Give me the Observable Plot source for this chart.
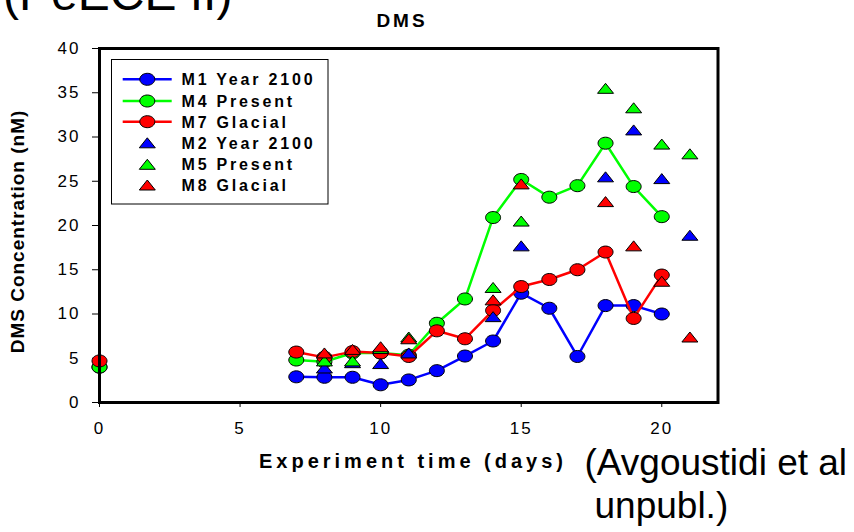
<!DOCTYPE html>
<html>
<head>
<meta charset="utf-8">
<script src="https://cdn.jsdelivr.net/npm/d3@7"></script>
<script src="https://cdn.jsdelivr.net/npm/@observablehq/plot@0.6"></script>
<style>
  body { margin: 0; background: #fff; }
  #wrap { position: relative; width: 854px; height: 532px; overflow: hidden; background: #fff; }
  #chart { position: absolute; left: 0; top: 0; }
  #overlay { position: absolute; left: 0; top: 0; pointer-events: none; }
</style>
</head>
<body>
<div id="wrap"><div id="chart"></div></div>
<script>
// ---------- data (index = experiment day) ----------
const days = [0, 1, 2, 3, 4, 5, 6, 7, 8, 9, 10, 11, 12, 13, 14, 15, 16, 17, 18, 19, 20, 21];
const M1 = [4.0, null, null, null, null, null, null, 2.9, 2.85, 2.85, 2.0, 2.55, 3.6, 5.25, 6.95, 12.35, 10.65, 5.2, 10.95, 10.95, 10.0, null];
const M4 = [4.0, null, null, null, null, null, null, 4.8, 4.6, 5.6, 5.6, 5.35, 8.95, 11.7, 20.9, 25.2, 23.2, 24.5, 29.3, 24.4, 21.0, null];
const M7 = [4.7, null, null, null, null, null, null, 5.7, 5.1, 5.75, 5.6, 5.2, 8.1, 7.2, 10.4, 13.1, 13.9, 15.0, 17.0, 9.5, 14.4, null];
const M2 = [null, null, null, null, null, null, null, null, 3.9, 4.5, 4.4, 5.6, null, null, 9.7, 17.7, null, null, 25.5, 30.8, 25.3, 18.9];
const M5 = [null, null, null, null, null, null, null, null, 4.7, 4.7, 6.1, 7.4, null, null, 13.0, 20.5, null, null, 35.5, 33.3, 29.2, 28.1];
const M8 = [null, null, null, null, null, null, null, null, 5.6, 6.0, 6.3, 7.2, null, null, 11.6, 24.7, null, null, 22.7, 17.7, 13.7, 7.4];

const xTicks = [0, 5, 10, 15, 20];
const yTicks = [0, 5, 10, 15, 20, 25, 30, 35, 40];

const lineKeys = ["M1", "M4", "M7"];
const triKeys = ["M2", "M5", "M8"];
const legendLabels = ["M1 Year 2100", "M4 Present", "M7 Glacial", "M2 Year 2100", "M5 Present", "M8 Glacial"];
const colors = { M1: "#0000ff", M4: "#00ff00", M7: "#ff0000", M2: "#0000ff", M5: "#00ff00", M8: "#ff0000" };

const series = { M1, M4, M7, M2, M5, M8 };
const rows = days.map((d, i) => {
  const r = { day: d };
  for (const k in series) r[k] = series[k][i];
  return r;
});

// ---------- custom symbols ----------
const ellipse = {
  draw(ctx) {
    const rx = 7.5, ry = 6, k = 0.5523;
    ctx.moveTo(rx, 0);
    ctx.bezierCurveTo(rx, ry * k, rx * k, ry, 0, ry);
    ctx.bezierCurveTo(-rx * k, ry, -rx, ry * k, -rx, 0);
    ctx.bezierCurveTo(-rx, -ry * k, -rx * k, -ry, 0, -ry);
    ctx.bezierCurveTo(rx * k, -ry, rx, -ry * k, rx, 0);
    ctx.closePath();
  }
};
const triangle = {
  draw(ctx) {
    ctx.moveTo(0, -5);
    ctx.lineTo(8, 5);
    ctx.lineTo(-8, 5);
    ctx.closePath();
  }
};

const FONT = "'Liberation Sans', Arial, Helvetica, sans-serif";

const chart = Plot.plot({
  width: 854,
  height: 532,
  marginLeft: 99,
  marginRight: 136.5,
  marginTop: 48,
  marginBottom: 130,
  style: { fontFamily: FONT, background: "#fff", color: "#000" },
  x: { domain: [0, 22] },
  y: { domain: [0, 40] },
  marks: [
    Plot.axisY({ ticks: yTicks, tickSize: 7, tickPadding: 12, fontSize: 17, label: null }),
    Plot.axisX({ ticks: xTicks, tickSize: 5, tickPadding: 14, fontSize: 17, label: null }),
    ...lineKeys.flatMap(k => [
      Plot.line(rows, { x: "day", y: k, stroke: colors[k], strokeWidth: 2.5 }),
      Plot.dot(rows, { x: "day", y: k, symbol: ellipse, fill: colors[k], stroke: "#000", strokeWidth: 1 })
    ]),
    ...triKeys.map(k =>
      Plot.dot(rows, { x: "day", y: k, symbol: triangle, fill: colors[k], stroke: "#000", strokeWidth: 1 })
    ),
    Plot.frame({ stroke: "#000", strokeWidth: 3 })
  ]
});
document.getElementById("chart").appendChild(chart);

d3.select(chart).selectAll('[aria-label="x-axis tick label"] text, [aria-label="y-axis tick label"] text')
  .style("letter-spacing", "2px");

// ---------- overlay texts & legend ----------
const ov = d3.select("#wrap").append("svg")
  .attr("id", "overlay")
  .attr("width", 854).attr("height", 532)
  .attr("font-family", FONT)
  .attr("fill", "#000");

ov.append("text").attr("x", 3).attr("y", 10).attr("font-size", 48).text("(PeECE II)");

ov.append("text").attr("x", 402).attr("y", 26.7).attr("text-anchor", "middle")
  .attr("font-size", 19).attr("font-weight", "bold").style("letter-spacing", "3px").text("DMS");

ov.append("text").attr("x", 413).attr("y", 468).attr("text-anchor", "middle")
  .attr("font-size", 20).attr("font-weight", "bold").style("letter-spacing", "4px")
  .text("Experiment time (days)");

ov.append("text").attr("transform", "translate(24,231.5) rotate(-90)").attr("text-anchor", "middle")
  .attr("font-size", 19).attr("font-weight", "bold").style("letter-spacing", "1px")
  .text("DMS Concentration (nM)");

ov.append("text").attr("x", 584.5).attr("y", 475).attr("font-size", 37).text("(Avgoustidi et al");
ov.append("text").attr("x", 594.5).attr("y", 518).attr("font-size", 37).text("unpubl.)");

// legend
const lg = ov.append("g");
lg.append("rect").attr("x", 111.5).attr("y", 59.5).attr("width", 216.5).attr("height", 144.5)
  .attr("fill", "#fff").attr("stroke", "#000").attr("stroke-width", 1);
const rowY = [79.3, 101, 121.7, 142.8, 164.3, 185];
const symPath = (sym) => { const p = d3.path(); sym.draw(p); return p.toString(); };
legendLabels.forEach((lab, i) => {
  const key = i < 3 ? lineKeys[i] : triKeys[i - 3];
  const y = rowY[i];
  if (i < 3) {
    lg.append("line").attr("x1", 122.7).attr("x2", 171.7).attr("y1", y).attr("y2", y)
      .attr("stroke", colors[key]).attr("stroke-width", 2.5);
    lg.append("path").attr("d", symPath(ellipse)).attr("transform", `translate(147.3,${y})`)
      .attr("fill", colors[key]).attr("stroke", "#000");
  } else {
    lg.append("path").attr("d", symPath(triangle)).attr("transform", `translate(147.3,${y})`)
      .attr("fill", colors[key]).attr("stroke", "#000");
  }
  lg.append("text").attr("x", 181.5).attr("y", y + 5.8).attr("font-size", 16)
    .attr("font-weight", "bold").style("letter-spacing", "2.8px").text(lab);
});
</script>
</body>
</html>
